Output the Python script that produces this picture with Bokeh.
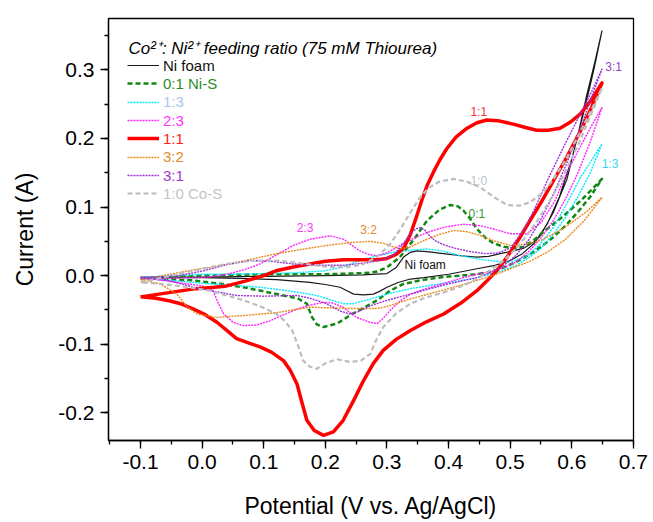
from bokeh.plotting import figure
from bokeh.models import (Range1d, SingleIntervalTicker, PrintfTickFormatter, Legend,
                          LegendItem, Label, ColumnDataSource)
from bokeh.core.properties import value
from bokeh.embed import file_html
from bokeh.resources import INLINE

# ---------------- data (potential V, current A) ----------------
# each series: forward sweep (-0.1 -> 0.65) followed by reverse sweep (0.65 -> -0.1)
nifoam_v = [-0.1, 0.0, 0.1, 0.2, 0.26, 0.30, 0.315, 0.327, 0.338, 0.348, 0.365, 0.392, 0.42, 0.446,
            0.465, 0.484, 0.50, 0.522, 0.54, 0.549, 0.57, 0.592, 0.61, 0.624, 0.637, 0.649,
            0.637, 0.624, 0.61, 0.60, 0.58, 0.56, 0.54, 0.52, 0.50, 0.475, 0.446, 0.40, 0.36, 0.338,
            0.318, 0.300, 0.288, 0.278, 0.262, 0.246, 0.235, 0.224, 0.20, 0.175, 0.121, 0.06, 0.0, -0.05, -0.1]
nifoam_i = [-0.002, -0.002, -0.001, 0.000, 0.001, 0.003, 0.012, 0.027, 0.034, 0.036, 0.035, 0.032, 0.029, 0.027,
            0.028, 0.032, 0.035, 0.040, 0.050, 0.058, 0.092, 0.140, 0.205, 0.262, 0.310, 0.357,
            0.305, 0.255, 0.205, 0.170, 0.115, 0.075, 0.048, 0.032, 0.022, 0.015, 0.010, 0.002, -0.003, -0.005,
            -0.010, -0.017, -0.023, -0.027, -0.028, -0.027, -0.022, -0.017, -0.013, -0.010, -0.006, -0.004, -0.003, -0.003, -0.002]

nis_v = [-0.1, -0.05, 0.0, 0.05, 0.10, 0.15, 0.20, 0.24, 0.27, 0.284, 0.300, 0.321, 0.343, 0.365, 0.385, 0.403,
         0.415, 0.424, 0.436, 0.446, 0.460, 0.473, 0.490, 0.505, 0.522, 0.540, 0.560, 0.580, 0.598, 0.614, 0.632, 0.649,
         0.63, 0.61, 0.59, 0.57, 0.55, 0.53, 0.51, 0.49, 0.47, 0.446, 0.42, 0.392, 0.36, 0.327, 0.305, 0.284, 0.262,
         0.240, 0.219, 0.197, 0.186, 0.178, 0.170, 0.155, 0.132, 0.100, 0.067, 0.030, -0.014, -0.06, -0.1]
nis_i = [-0.004, -0.002, 0.000, 0.001, 0.002, 0.002, 0.002, 0.003, 0.004, 0.006, 0.012, 0.027, 0.052, 0.080, 0.096, 0.103,
         0.101, 0.095, 0.082, 0.068, 0.055, 0.047, 0.042, 0.040, 0.042, 0.053, 0.068, 0.082, 0.096, 0.109, 0.125, 0.141,
         0.115, 0.093, 0.073, 0.056, 0.042, 0.030, 0.020, 0.012, 0.006, 0.002, 0.000, -0.002, -0.006, -0.012, -0.022, -0.036, -0.047,
         -0.058, -0.070, -0.075, -0.071, -0.060, -0.041, -0.033, -0.029, -0.023, -0.017, -0.012, -0.007, -0.005, -0.004]

r13_v = [-0.1, -0.05, 0.0, 0.05, 0.1, 0.15, 0.2, 0.23, 0.256, 0.28, 0.311, 0.34, 0.365, 0.39, 0.419, 0.45, 0.475, 0.50,
         0.525, 0.548, 0.570, 0.592, 0.614, 0.632, 0.649,
         0.63, 0.61, 0.59, 0.57, 0.55, 0.53, 0.51, 0.48, 0.446, 0.40, 0.338, 0.30, 0.27, 0.245, 0.229, 0.21, 0.19, 0.175,
         0.13, 0.094, 0.05, 0.013, -0.04, -0.1]
r13_i = [-0.003, 0.000, 0.002, 0.002, 0.003, 0.004, 0.007, 0.013, 0.022, 0.028, 0.034, 0.037, 0.039, 0.036, 0.029, 0.024, 0.021, 0.020,
         0.027, 0.045, 0.070, 0.105, 0.143, 0.168, 0.192,
         0.150, 0.115, 0.085, 0.060, 0.040, 0.026, 0.015, 0.005, -0.003, -0.010, -0.019, -0.027, -0.035, -0.041, -0.041, -0.036, -0.030, -0.027,
         -0.021, -0.017, -0.014, -0.012, -0.008, -0.003]

r23_v = [-0.1, -0.06, -0.02, 0.013, 0.04, 0.07, 0.094, 0.12, 0.148, 0.175, 0.208, 0.230, 0.245, 0.256, 0.270, 0.284, 0.300,
         0.321, 0.345, 0.365, 0.395, 0.424, 0.450, 0.473, 0.500, 0.527, 0.550, 0.572, 0.592, 0.612, 0.630, 0.649,
         0.63, 0.61, 0.59, 0.57, 0.55, 0.53, 0.51, 0.49, 0.47, 0.446, 0.42, 0.39, 0.36, 0.338, 0.320, 0.305, 0.292, 0.284,
         0.272, 0.251, 0.240, 0.229, 0.212, 0.197, 0.175, 0.154, 0.130, 0.110, 0.088, 0.067, 0.050, 0.035, 0.025, 0.018,
         0.0, -0.041, -0.07, -0.1]
r23_i = [-0.004, -0.004, -0.003, -0.002, 0.002, 0.009, 0.017, 0.030, 0.044, 0.053, 0.058, 0.053, 0.043, 0.036, 0.031, 0.029, 0.033,
         0.044, 0.055, 0.063, 0.071, 0.075, 0.073, 0.068, 0.061, 0.061, 0.077, 0.108, 0.150, 0.185, 0.215, 0.245,
         0.195, 0.150, 0.112, 0.080, 0.055, 0.035, 0.020, 0.012, 0.006, 0.002, -0.004, -0.012, -0.020, -0.027, -0.038, -0.051, -0.064, -0.070,
         -0.068, -0.061, -0.054, -0.046, -0.040, -0.039, -0.043, -0.049, -0.058, -0.066, -0.072, -0.073, -0.068, -0.056, -0.038, -0.022,
         -0.015, -0.010, -0.006, -0.004]

r11_v = [-0.100, -0.070, -0.040, -0.010, 0.020, 0.040, 0.070, 0.100, 0.120, 0.150, 0.175, 0.200, 0.230, 0.260, 0.285,
         0.300, 0.315, 0.327, 0.338, 0.348, 0.357, 0.365, 0.376, 0.386, 0.397, 0.412, 0.430, 0.446, 0.462, 0.480,
         0.505, 0.525, 0.543, 0.562, 0.581, 0.598, 0.614, 0.630, 0.649,
         0.632, 0.614, 0.592, 0.570, 0.551, 0.532, 0.514, 0.495, 0.478, 0.462, 0.446, 0.420, 0.392, 0.365, 0.338,
         0.315, 0.294, 0.278, 0.262, 0.246, 0.229, 0.213, 0.197, 0.182, 0.170, 0.162, 0.154, 0.143, 0.132, 0.113,
         0.094, 0.075, 0.056, 0.040, 0.024, 0.005, -0.014, -0.035, -0.052, -0.075, -0.100]
r11_i = [-0.031, -0.027, -0.023, -0.019, -0.017, -0.015, -0.008, 0.000, 0.007, 0.013, 0.017, 0.021, 0.023, 0.023, 0.023,
         0.025, 0.031, 0.040, 0.060, 0.086, 0.111, 0.131, 0.152, 0.169, 0.185, 0.202, 0.215, 0.223, 0.227, 0.226,
         0.221, 0.216, 0.212, 0.212, 0.215, 0.224, 0.236, 0.254, 0.281,
         0.245, 0.211, 0.173, 0.138, 0.108, 0.080, 0.053, 0.027, 0.007, -0.008, -0.022, -0.040, -0.056, -0.067, -0.080,
         -0.093, -0.109, -0.128, -0.153, -0.182, -0.211, -0.228, -0.233, -0.226, -0.211, -0.185, -0.158, -0.138, -0.124, -0.112,
         -0.104, -0.098, -0.092, -0.080, -0.068, -0.057, -0.049, -0.041, -0.037, -0.033, -0.031]

r32_v = [-0.1, -0.07, -0.04, -0.01, 0.013, 0.05, 0.085, 0.121, 0.160, 0.202, 0.240, 0.273, 0.295, 0.310, 0.321, 0.335,
         0.350, 0.365, 0.385, 0.408, 0.430, 0.450, 0.473, 0.500, 0.525, 0.549, 0.575, 0.598, 0.625, 0.649,
         0.62, 0.59, 0.56, 0.53, 0.50, 0.475, 0.446, 0.40, 0.338, 0.30, 0.284, 0.24, 0.175, 0.121, 0.07, 0.024,
         -0.008, -0.025, -0.041, -0.068, -0.1]
r32_i = [-0.006, -0.001, 0.004, 0.009, 0.012, 0.018, 0.025, 0.032, 0.038, 0.044, 0.048, 0.050, 0.047, 0.042, 0.039, 0.041,
         0.047, 0.053, 0.060, 0.066, 0.064, 0.059, 0.051, 0.044, 0.046, 0.051, 0.063, 0.076, 0.094, 0.114,
         0.080, 0.053, 0.034, 0.020, 0.010, 0.001, -0.007, -0.019, -0.034, -0.045, -0.048, -0.048, -0.046, -0.054, -0.058, -0.061,
         -0.056, -0.045, -0.027, -0.012, -0.006]

r31_v = [-0.1, -0.07, -0.04, -0.02, 0.002, 0.04, 0.078, 0.11, 0.148, 0.19, 0.229, 0.27, 0.295, 0.311, 0.325, 0.338,
         0.347, 0.354, 0.362, 0.370, 0.38, 0.392, 0.41, 0.435, 0.46, 0.48, 0.50, 0.522, 0.54, 0.560, 0.587, 0.614, 0.632, 0.649,
         0.63, 0.61, 0.59, 0.57, 0.55, 0.53, 0.51, 0.49, 0.47, 0.446, 0.40, 0.37, 0.338, 0.30, 0.273, 0.255, 0.240, 0.225,
         0.202, 0.175, 0.154, 0.10, 0.056, 0.02, -0.014, -0.05, -0.1]
r31_i = [-0.003, -0.002, 0.000, 0.003, 0.007, 0.016, 0.022, 0.021, 0.017, 0.015, 0.015, 0.019, 0.024, 0.030, 0.045, 0.061,
         0.068, 0.070, 0.066, 0.057, 0.050, 0.045, 0.040, 0.035, 0.032, 0.033, 0.040, 0.066, 0.098, 0.138, 0.188, 0.236, 0.268, 0.301,
         0.255, 0.205, 0.160, 0.118, 0.082, 0.052, 0.030, 0.015, 0.005, -0.003, -0.012, -0.019, -0.027, -0.036, -0.044, -0.052, -0.056, -0.052,
         -0.041, -0.033, -0.029, -0.030, -0.029, -0.023, -0.017, -0.008, -0.003]

cos_v = [-0.100, -0.070, -0.040, 0.000, 0.040, 0.080, 0.120, 0.160, 0.200, 0.230, 0.260, 0.285, 0.305, 0.322, 0.338,
         0.352, 0.368, 0.385, 0.408, 0.430, 0.451, 0.473, 0.495, 0.515, 0.532, 0.552, 0.570, 0.592, 0.614, 0.632, 0.649,
         0.63, 0.61, 0.59, 0.57, 0.55, 0.53, 0.51, 0.49, 0.468, 0.446, 0.42, 0.39, 0.36, 0.338, 0.315, 0.294, 0.282,
         0.273, 0.258, 0.240, 0.219, 0.200, 0.186, 0.175, 0.164, 0.155, 0.146, 0.134, 0.121, 0.095, 0.067, 0.040, 0.013,
         -0.030, -0.068, -0.100]
cos_i = [-0.010, -0.004, 0.002, 0.010, 0.017, 0.022, 0.022, 0.018, 0.013, 0.012, 0.016, 0.028, 0.046, 0.068, 0.092,
         0.112, 0.128, 0.137, 0.141, 0.137, 0.129, 0.115, 0.103, 0.102, 0.107, 0.120, 0.140, 0.172, 0.210, 0.242, 0.274,
         0.232, 0.190, 0.152, 0.118, 0.088, 0.062, 0.040, 0.022, 0.008, -0.005, -0.016, -0.025, -0.033, -0.041, -0.055, -0.075, -0.095,
         -0.114, -0.124, -0.126, -0.122, -0.128, -0.136, -0.133, -0.124, -0.100, -0.080, -0.066, -0.056, -0.045, -0.036, -0.029, -0.022,
         -0.016, -0.012, -0.010]

series_names = ["Ni foam", "0:1 Ni-S", "1:3", "2:3", "1:1", "3:2", "3:1", "1:0 Co-S"]

# curve annotations (text, potential, current)
note_text = ["1:1", "1:0", "0:1", "Ni foam", "2:3", "3:2", "3:1", "1:3"]
note_v = [0.449, 0.449, 0.446, 0.362, 0.167, 0.270, 0.668, 0.662]
note_i = [0.238, 0.138, 0.090, 0.0156, 0.069, 0.066, 0.304, 0.163]

# ---------------- figure ----------------
FONT = "Liberation Sans"
p = figure(width=653, height=522, output_backend="svg", toolbar_location=None,
           x_range=Range1d(-0.152, 0.7002), y_range=Range1d(-0.2405, 0.375),
           min_border_left=108, min_border_right=20, min_border_top=18, min_border_bottom=82)
p.background_fill_color = "white"
p.border_fill_color = "white"
p.outline_line_color = "black"
p.outline_line_width = 1.3
p.xgrid.visible = False
p.ygrid.visible = False

p.xaxis.ticker = SingleIntervalTicker(interval=0.1, num_minor_ticks=2)
p.yaxis.ticker = SingleIntervalTicker(interval=0.1, num_minor_ticks=2)
for ax in (p.xaxis, p.yaxis):
    ax.formatter = PrintfTickFormatter(format="%.1f")
    ax.major_tick_out = 8
    ax.major_tick_in = 0
    ax.minor_tick_out = 4
    ax.minor_tick_in = 0
    ax.axis_line_width = 1.3
    ax.major_tick_line_width = 1.3
    ax.minor_tick_line_width = 1.3
    ax.axis_line_color = "black"
    ax.major_tick_line_color = "black"
    ax.minor_tick_line_color = "black"
    ax.major_label_text_font = FONT
    ax.major_label_text_font_size = "21px"
    ax.major_label_text_color = "black"
    ax.axis_label_text_font = FONT
    ax.axis_label_text_font_size = "23px"
    ax.axis_label_text_font_style = "normal"
    ax.axis_label_text_color = "black"
p.xaxis.major_label_standoff = 6
p.yaxis.major_label_standoff = 6
p.yaxis.axis_label = "Current (A)"
p.yaxis.axis_label_standoff = 17
p.xaxis.axis_label = "Potential (V vs. Ag/AgCl)"
p.xaxis.axis_label_standoff = 21

styles = [
    dict(color="#1a1a1a", line_width=1.2),
    dict(color="#118811", line_width=2.5, line_dash="5 3"),
    dict(color="#00e8ff", line_width=1.4, line_dash="2 1"),
    dict(color="#ff22ff", line_width=1.4, line_dash="2 1"),
    dict(color="#ff0000", line_width=3.5),
    dict(color="#e8891a", line_width=1.4, line_dash="2 1"),
    dict(color="#9a30d8", line_width=1.4, line_dash="2 1"),
    dict(color="#bdbdbd", line_width=2.2, line_dash="5 3"),
]
label_colors = ["#111111", "#2a8c2a", "#a8c6ee", "#ff33ff", "#ff2020", "#e48a28", "#9a34d4", "#c4c4c4"]
note_colors = ["#ff3030", "#b8c4d0", "#3a9a3a", "#111111", "#ff33ff", "#e48a28", "#9a40d0", "#30d8f0"]

data_v = [nifoam_v, nis_v, r13_v, r23_v, r11_v, r32_v, r31_v, cos_v]
data_i = [nifoam_i, nis_i, r13_i, r23_i, r11_i, r32_i, r31_i, cos_i]

renderers = []
for v, c, st in zip(data_v, data_i, styles):
    r = p.line(v, c, line_join="round", **st)
    renderers.append(r)

# one legend per entry so that each label keeps its own colour
centers = [65, 83.3, 101.7, 120, 138.3, 156.7, 175, 193.3]
for name, r, col, yc in zip(series_names, renderers, label_colors, centers):
    leg = Legend(items=[LegendItem(label=name, renderers=[r])],
                 location=(19, 440 - (yc + 9)),
                 label_text_color=col, label_text_font=FONT, label_text_font_size="15px",
                 glyph_width=32, glyph_height=18, label_height=18, label_standoff=4,
                 padding=0, margin=0, spacing=0,
                 border_line_alpha=0, background_fill_alpha=0)
    p.add_layout(leg)

p.add_layout(Label(x=20, y=392, x_units="screen", y_units="screen",
                   text="Co\u00b2\u207a: Ni\u00b2\u207a feeding ratio (75 mM Thiourea)",
                   text_font=FONT, text_font_size="17px", text_font_style="italic",
                   text_color="black", text_baseline="alphabetic"))

src = ColumnDataSource(dict(x=note_v, y=note_i, t=note_text, c=note_colors))
p.text(x="x", y="y", text="t", text_color="c", source=src, text_font=value(FONT),
       text_font_size="12px", text_align="center", text_baseline="middle")

open("out.html", "w").write(file_html(p, INLINE))
